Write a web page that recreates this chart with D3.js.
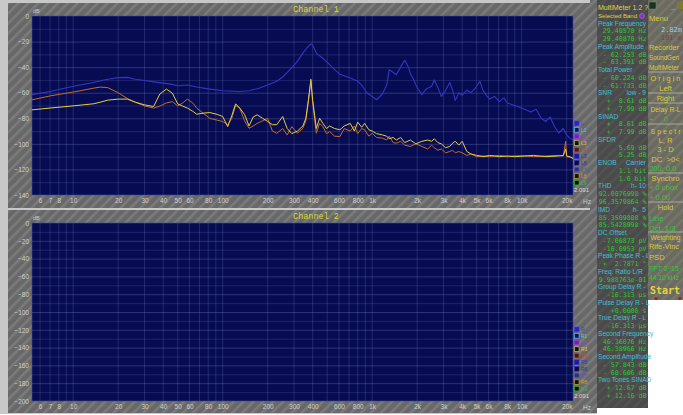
<!DOCTYPE html>
<html>
<head>
<meta charset="utf-8">
<script src="https://cdn.jsdelivr.net/npm/d3@7/dist/d3.min.js"></script>
<style>
  body { margin: 0; background: #fff; }
  svg { display: block; }
</style>
</head>
<body>
<svg id="chart" width="683" height="415"></svg>
<script>
// Channel 1 traces (Hz / dB)
const blueHz = [5.3, 7, 10, 13.6, 17, 20, 23, 26, 30, 34.5, 40, 46, 50, 58, 67, 80, 100, 130, 150, 175,
  200, 230, 252, 282, 316, 344, 366, 383, 392, 400, 423, 468, 520, 560, 608, 713, 800, 850, 920, 1000,
  1070, 1170, 1250, 1300, 1380, 1450, 1550, 1650, 1750, 1800, 1900, 1960, 2050, 2150, 2300, 2500, 2600,
  2750, 2900, 3100, 3300, 3450, 3600, 3800, 4000, 4300, 4600, 5000, 5250, 5500, 5800, 6100, 6600, 7100,
  7600, 8000, 9000, 10500, 11500, 12500, 13500, 14500, 15500, 16500, 17700, 19000, 20000, 21000, 22050];
const blueDb = [-61.5, -59, -55, -52, -49.5, -48.2, -48, -49.5, -50.5, -51.5, -52.5, -53.5, -54.5, -54, -55.5, -57, -58.5, -59, -58.5, -56.5,
  -54, -51, -47.7, -42, -35.5, -29, -25, -22.5, -21.7, -23, -29, -33, -38, -42, -45.5, -48.5, -51, -54, -60, -63,
  -65.5, -61, -54, -42, -44, -46, -40, -34.5, -40, -45, -50, -54, -58, -61.5, -57, -55, -50,
  -56, -63, -58, -52, -58, -66, -60, -62, -58, -60, -55, -51, -58, -62, -65, -63, -67,
  -64, -68, -70, -73, -75, -73, -80, -82.5, -79, -86, -91.5, -88, -93, -95.5, -97];

const traceHz = [5.3, 7, 10, 13.6, 15.1, 17, 20, 23, 26, 30, 34.5, 38, 42, 46, 50, 54, 58, 63, 67, 74,
  82, 92, 100, 108, 115, 122, 130, 140, 150, 160, 170, 185, 200, 215, 230, 252, 270, 290, 316, 344,
  360, 375, 389, 400, 423, 445, 468, 495, 520, 560, 608, 650, 713, 760, 800, 850, 890, 950, 1000, 1070,
  1170, 1250, 1300, 1380, 1450, 1550, 1650, 1800, 1960, 2150, 2350, 2500, 2600, 2750, 2900, 3100, 3300,
  3450, 3600, 3800, 4000, 4300, 4600, 5000, 5600, 6100, 7100, 8000, 9000, 10500, 12000, 14500, 17700,
  19000, 19700, 20000, 21000, 22050];
const orangeDb = [-65.6, -62.5, -59.5, -56.5, -55.6, -56, -60, -64.5, -67.4, -70.3, -72, -70.5, -68, -67, -70.3, -68, -65, -68, -72, -76,
  -80, -81.5, -82.5, -85, -80, -70, -72, -82, -87.8, -86, -84, -82, -80, -90, -91.7, -88, -93, -86.5, -91.7, -87.8,
  -82, -66, -51, -68, -91.7, -84, -86.5, -92, -90.4, -94, -94.3, -88, -90, -86, -92, -88, -89, -94, -91.7, -95,
  -95.6, -97, -94, -99, -99.5, -98, -101, -102, -100, -102, -104, -101, -103, -105, -104, -107, -106,
  -105, -107, -106, -107, -109, -108, -110, -109.5, -110, -109, -110, -109.4, -109.4, -110, -109.5, -109,
  -109.5, -98, -110, -110.5, -111];
const yellowDb = [-73.4, -72, -70.3, -68.7, -67.5, -65.8, -65, -65, -67.4, -69.5, -70.8, -61, -57.2, -60.3, -68.7, -70.5, -72, -74.5, -76.8, -76,
  -75.5, -77, -78.6, -86.5, -78, -68.7, -72, -77, -86, -79, -77.3, -80, -82.5, -85, -85, -78.6, -88, -92, -90, -86,
  -80, -65, -49.5, -66, -88, -80, -84, -88, -86, -88, -89, -86, -84, -90, -83, -87, -84, -89, -90, -92,
  -93, -94, -96, -95, -97, -95, -99, -97, -100, -98, -97, -98, -96, -99, -100, -103, -102,
  -99.5, -98, -101, -98, -106, -108, -109, -110, -109, -110, -109.5, -110, -109.5, -109, -110, -109.5,
  -109, -104, -109.5, -110, -111.5];

const freqTicks = [6, 7, 8, 10, 20, 30, 40, 50, 60, 80, 100, 200, 300, 400, 600, 800, 1000,
  2000, 3000, 4000, 5000, 6000, 8000, 10000, 20000];
const freqLabels = ["6", "7", "8", "10", "20", "30", "40", "50", "60", "80", "100", "200", "300", "400",
  "600", "800", "1k", "2k", "3k", "4k", "5k", "6k", "8k", "10k", "20k"];
const gridHz = [6, 7, 8, 9, 10, 20, 30, 40, 50, 60, 70, 80, 90, 100, 200, 300, 400, 500, 600, 700, 800, 900,
  1000, 2000, 3000, 4000, 5000, 6000, 7000, 8000, 9000, 10000, 20000];
const topDbTicks = [0, -20, -40, -60, -80, -100, -120, -140];
const bottomDbTicks = [0, -20, -40, -60, -80, -100, -120, -140, -160, -180, -200];

const legendTop = ["L", "L1", "L2", "L3", "L4", "L5", "L6", "L7", "L8", "L9"];
const legendBottom = ["R", "R1", "R2", "R3", "R4", "R5", "R6", "R7", "R8", "R9"];
const legendFill = ["#2424c8", "#0a1060", "#7a1cb8", "#101010", "#501818", "#1a1aa0", "#0a0a40", "#2a2a90", "#101010", "#050505"];
const legendStroke = ["#3a3aff", "#40d0f0", "#9a40e0", "#d8d040", "#c05020", "#3030d0", "#3030a0", "#6050d0", "#d0a030", "#30c030"];

const meterRows = [
  ["MultiMeter 1.2  ?", "t"], ["Selected Band", "s"], ["Peak Frequency", "h"], ["29.40570 Hz", "v"], ["29.40870 Hz", "v"],
  ["Peak Amplitude", "h"], ["- 62.253 dB", "v"], ["- 63.391 dB", "v"], ["Total Power", "h"], ["- 60.224 dB", "v"],
  ["- 61.733 dB", "v"], ["SNR|low - 9", "h"], ["+  8.61 dB", "v"], ["+  7.99 dB", "v"], ["SINAD", "h"],
  ["+  8.61 dB", "v"], ["+  7.99 dB", "v"], ["SFDR", "h"], ["5.69 dB", "v"], ["5.25 dB", "v"],
  ["ENOB|Carrier", "h"], ["1.1 bit", "v"], ["1.0 bit", "v"], ["THD|h- 10", "h"], ["92.0076998 %", "v"],
  ["96.3579864 %", "v"], ["IMD|h-  5", "h"], ["85.3509808 %", "v"], ["85.5428998 %", "v"], ["DC Offset", "h"],
  ["-7.06873 pV", "v"], ["-16.0953 pV", "v"], ["Peak Phase R - L", "h"], ["+  2.7871 °", "v"], ["Freq. Ratio L/R", "h"],
  ["9.988763e-01", "v"], ["Group Delay R - L", "h"], ["-16.313 µs", "v"], ["Pulse Delay R - L", "h"], ["+0.0000 s", "v"],
  ["True  Delay R - L", "h"], ["-16.313 µs", "v"], ["Second Frequency", "h"], ["46.36076 Hz", "v"], ["46.38966 Hz", "v"],
  ["Second Amplitude", "h"], ["- 57.843 dB", "v"], ["- 60.606 dB", "v"], ["Two Tones SINAD", "h"], ["+ 12.67 dB", "v"],
  ["+ 12.16 dB", "v"]];

const menuRows = [
  ["Menu", 18, "y", "l"], ["2.82m", 29, "b", "r"], ["101 m", 37, "d", "r"], ["Recorder", 47, "y", "l"],
  ["SoundGen", 57, "y", "l"], ["MultiMeter", 67, "y", "l"], ["O r i g i n", 78, "y", "c"], ["Left", 88, "y", "c"],
  ["Right", 98, "y", "c"], ["Delay R-L", 109, "y", "c"], ["+     0", 119, "g", "l"], ["S p e c t r", 131, "y", "c"],
  ["L, R", 140, "y", "c"], ["3 - D", 149, "y", "c"], ["DC  >0<", 159, "y", "c"], ["200, 0.0", 168, "g", "l"],
  ["Synchro", 178, "y", "c"], ["+ 0 cbox", 187, "g", "l"], ["+ 0.00", 197, "g", "l"], ["Hold", 207, "y", "c"],
  ["Line", 218, "g", "l"], ["Oct  1/3", 228, "g", "l"], ["Weighting", 237, "y", "c"], ["Rife-Vinc", 246, "y", "l"],
  ["PSD", 257, "y", "l"], ["FFT 2^15", 268, "g", "l"], ["44.10 kHz", 277, "g", "l"]];
const menuColors = { y: "#dccb3c", b: "#a8c8f0", d: "#8a4038", g: "#36c836" };

const svg = d3.select("#chart");
const defs = svg.append("defs");

const hatch = (id, base, line) => {
  const p = defs.append("pattern")
      .attr("id", id)
      .attr("patternUnits", "userSpaceOnUse")
      .attr("width", 7).attr("height", 7)
      .attr("patternTransform", "rotate(45)");
  p.append("rect").attr("width", 7).attr("height", 7).attr("fill", base);
  p.append("rect").attr("width", 2.5).attr("height", 7).attr("fill", line);
};
hatch("hatchMain", "#686868", "#7b7b7b");
hatch("hatchMeter", "#4a4a4a", "#525252");
hatch("hatchMenu", "#6a6a60", "#76766a");

// backgrounds
svg.append("rect").attr("x", 0).attr("y", 0).attr("width", 597).attr("height", 414).attr("fill", "#c8c8c8");
svg.append("rect").attr("x", 590).attr("y", 0).attr("width", 7).attr("height", 413).attr("fill", "url(#hatchMain)");

const x = d3.scaleLog().domain([5.3, 22050]).range([32, 573]);

const panel = (opts) => {
  const g = svg.append("g");
  g.append("rect")
      .attr("x", 8).attr("y", opts.frame[0])
      .attr("width", 583).attr("height", opts.frame[1] - opts.frame[0])
      .attr("fill", "url(#hatchMain)");

  const y = d3.scaleLinear().domain(opts.domain).range(opts.range);
  g.append("rect")
      .attr("x", 32).attr("y", opts.range[0])
      .attr("width", 541).attr("height", opts.range[1] - opts.range[0])
      .attr("fill", "#070c52")
      .attr("stroke", "#3a4fa0").attr("stroke-width", 0.6);

  // grid
  const yGrid = d3.range(opts.domain[0], opts.domain[1] - 1, -10);
  g.append("g").selectAll("line")
      .data(yGrid.slice(1, -1))
      .join("line")
      .attr("x1", 32).attr("x2", 573)
      .attr("y1", d => y(d) + 0.5).attr("y2", d => y(d) + 0.5)
      .attr("stroke", "#7a88c8")
      .attr("stroke-opacity", d => d % 20 === 0 ? 0.55 : 0.35)
      .attr("stroke-width", 0.6);
  g.append("g").selectAll("line")
      .data(gridHz)
      .join("line")
      .attr("x1", d => x(d)).attr("x2", d => x(d))
      .attr("y1", opts.range[0]).attr("y2", opts.range[1])
      .attr("stroke", "#7a88c8")
      .attr("stroke-opacity", 0.4)
      .attr("stroke-width", 0.6);

  // axes
  const yAxis = g.append("g")
      .attr("transform", "translate(29,0)")
      .call(d3.axisLeft(y).tickValues(opts.ticks).tickSize(0).tickPadding(0).tickFormat(d3.format("d")));
  yAxis.select(".domain").remove();
  yAxis.selectAll("text")
      .attr("fill", "#d0d0d0").attr("font-size", 6.5).attr("font-family", "Liberation Sans, Arial, sans-serif")
      .attr("dy", "0.35em");

  const xAxis = g.append("g")
      .attr("transform", `translate(0,${opts.range[1] + 3})`)
      .call(d3.axisBottom(x).tickValues(freqTicks).tickSize(0).tickPadding(0)
          .tickFormat((d, i) => freqLabels[i]));
  xAxis.select(".domain").remove();
  xAxis.selectAll("text")
      .attr("fill", "#d0d0d0").attr("font-size", 6.5).attr("font-family", "Liberation Sans, Arial, sans-serif")
      .attr("dy", "0.71em");

  g.append("text").attr("x", 583).attr("y", opts.range[1] + 8.5).text("Hz")
      .attr("fill", "#d0d0d0").attr("font-size", 6.5).attr("font-family", "Liberation Sans, Arial, sans-serif");
  g.append("text").attr("x", 33).attr("y", opts.range[0] - 3).text("dB")
      .attr("fill", "#d0d0d0").attr("font-size", 5.5).attr("font-family", "Liberation Sans, Arial, sans-serif");
  g.append("text").attr("x", 316).attr("y", opts.range[0] - 4).text(opts.title)
      .attr("text-anchor", "middle")
      .attr("fill", "#d8d838").attr("font-size", 8.5).attr("font-family", "Liberation Mono, monospace");

  // legend
  const leg = g.append("g").selectAll("g")
      .data(opts.legend)
      .join("g")
      .attr("transform", (d, i) => `translate(574.5,${opts.legendY + i * 6.6})`);
  leg.append("rect")
      .attr("width", 4.5).attr("height", 4.5)
      .attr("fill", (d, i) => legendFill[i])
      .attr("stroke", (d, i) => legendStroke[i]).attr("stroke-width", 0.6);
  leg.append("text")
      .attr("x", 6.5).attr("y", 4.3).text(d => d)
      .attr("fill", (d, i) => legendStroke[i])
      .attr("font-size", 5).attr("font-family", "Liberation Sans, Arial, sans-serif");
  g.append("text").attr("x", 574).attr("y", opts.legendY + 71).text("2.091")
      .attr("fill", "#d8d8d8").attr("font-size", 6).attr("font-family", "Liberation Sans, Arial, sans-serif");

  return { g, y };
};

const ch1 = panel({ frame: [3, 208], domain: [0, -140], range: [16, 195], ticks: topDbTicks,
  title: "Channel 1", legend: legendTop, legendY: 121 });
const ch2 = panel({ frame: [210, 413], domain: [0, -200], range: [223, 401], ticks: bottomDbTicks,
  title: "Channel 2", legend: legendBottom, legendY: 327 });

// traces on channel 1
const clip = defs.append("clipPath").attr("id", "clipTop");
clip.append("rect").attr("x", 32).attr("y", 16).attr("width", 541).attr("height", 179);

const trace = (hz, db, color, width) => {
  const line = d3.line()
      .x((d, i) => x(hz[i]))
      .y(d => ch1.y(d));
  ch1.g.append("path")
      .datum(db)
      .attr("clip-path", "url(#clipTop)")
      .attr("d", line)
      .attr("fill", "none")
      .attr("stroke", color)
      .attr("stroke-width", width)
      .attr("stroke-linejoin", "round");
};
trace(blueHz, blueDb, "#3535c4", 1.1);
trace(traceHz, orangeDb, "#c46a2c", 1);
trace(traceHz, yellowDb, "#e2cf40", 1);

// MultiMeter panel
const meter = svg.append("g");
meter.append("rect").attr("x", 597).attr("y", 0).attr("width", 51).attr("height", 408).attr("fill", "url(#hatchMeter)");
meterRows.forEach(([text, kind], i) => {
  const yy = 10 + i * 7.76;
  const parts = text.split("|");
  if (kind === "v") {
    meter.append("text").attr("x", 646.5).attr("y", yy).text(text)
        .attr("text-anchor", "end").attr("xml:space", "preserve")
        .attr("fill", "#2cc82c").attr("font-size", 6.6).attr("font-family", "DejaVu Sans Mono, monospace");
  } else {
    const color = kind === "h" ? "#3cc0d0" : "#e0d040";
    meter.append("text").attr("x", 598).attr("y", yy).text(parts[0])
        .attr("fill", color).attr("font-size", kind === "s" ? 6 : kind === "t" ? 7 : 6.6)
        .attr("font-family", "Liberation Sans, Arial, sans-serif");
    if (parts[1]) {
      meter.append("text").attr("x", 646).attr("y", yy).text(parts[1])
          .attr("text-anchor", "end").attr("xml:space", "preserve")
          .attr("fill", color).attr("font-size", 6.6).attr("font-family", "Liberation Sans, Arial, sans-serif");
    }
  }
});
meter.append("circle").attr("cx", 642).attr("cy", 16).attr("r", 2.4).attr("fill", "#8a2ad0").attr("stroke", "#c080ff").attr("stroke-width", 0.5);

// Menu panel
const menu = svg.append("g");
menu.append("rect").attr("x", 648).attr("y", 0).attr("width", 35).attr("height", 300).attr("fill", "url(#hatchMenu)");
menu.append("rect").attr("x", 649).attr("y", 2).attr("width", 7).attr("height", 7).attr("fill", "#203020").attr("stroke", "#60a060").attr("stroke-width", 0.5);
menu.append("text").attr("x", 671).attr("y", 9).text("_").attr("fill", "#dccb3c").attr("font-size", 7);
menu.append("rect").attr("x", 677).attr("y", 2).attr("width", 6).attr("height", 7).attr("fill", "#807a30");
[72, 93, 103, 124, 173, 202, 232].forEach(yy => {
  menu.append("line").attr("x1", 648).attr("x2", 683).attr("y1", yy).attr("y2", yy)
      .attr("stroke", "#a8a8a0").attr("stroke-width", 1);
});
menuRows.forEach(([text, yy, c, a]) => {
  const size = c === "b" || c === "d" ? 7 : 7.6;
  const t = menu.append("text")
      .attr("x", a === "l" ? 649 : a === "r" ? 682 : 665.5)
      .attr("y", yy + 2.5)
      .attr("text-anchor", a === "l" ? "start" : a === "r" ? "end" : "middle")
      .attr("xml:space", "preserve")
      .text(text)
      .attr("fill", menuColors[c])
      .attr("font-size", size)
      .attr("font-family", c === "b" || c === "d" ? "DejaVu Sans Mono, monospace" : "Liberation Sans, Arial, sans-serif");
  // shrink long labels so they stay inside the narrow panel
  const len = t.node().getComputedTextLength();
  if (len > 30) t.attr("font-size", size * 30 / len);
});
menu.append("text").attr("x", 650).attr("y", 294).text("Start")
    .attr("fill", "#e6d440").attr("font-size", 10).attr("font-weight", "bold")
    .attr("font-family", "DejaVu Sans Mono, monospace");
[656, 680].forEach(cx => {
  menu.append("circle").attr("cx", cx).attr("cy", 298.5).attr("r", 1.6).attr("fill", "#a02020");
});
</script>
</body>
</html>
